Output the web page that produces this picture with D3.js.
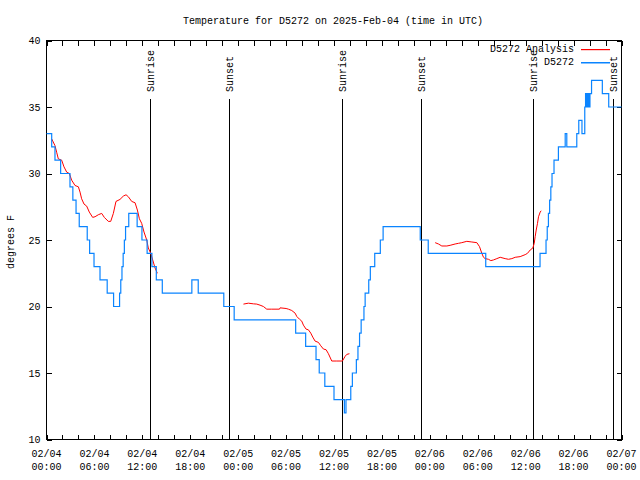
<!DOCTYPE html>
<html><head><meta charset="utf-8">
<script src="https://cdn.jsdelivr.net/npm/d3@7"></script>
<style>
html,body{margin:0;padding:0;background:#fff;}
text{font-family:"Liberation Mono","DejaVu Sans Mono",monospace;font-size:10px;fill:#000;}
</style></head>
<body>
<svg id="chart" width="640" height="480"></svg>
<script>
// hours since 2025-02-04 00:00 UTC
const obsHours = [0,0.65,1.06,1.77,2.94,3.3,3.7,4.1,5.1,5.4,5.95,6.7,7.6,8.4,9.15,9.3,9.45,9.6,9.75,9.9,10.3,11.35,11.95,12.6,13.2,13.75,14.5,18.2,19.0,22.2,23.5,31.2,32.45,33.75,34.15,34.85,36.0,37.3,37.5,38.1,38.3,38.8,39.0,39.2,39.4,39.75,39.9,40.35,40.55,41.1,41.8,42.15,46.8,47.8,55.0,61.8,62.55,62.7,62.85,63.0,63.15,63.3,63.55,64.1,64.95,65.15,66.4,66.65,67.05,67.4,67.5,67.65,67.75,67.9,68.05,68.25,69.6,70.4,72];
const obsTemps = [33,32,31,30,29,28,27,26,25,24,23,22,21,20,21,22,23,24,25,26,27,26,25,24,23,22,21,22,21,20,19,18,17,16,15,14,13,12,13,14,15,16,17,18,19,20,21,22,23,24,25,26,25,24,23,24,25,26,27,28,29,30,31,32,33,32,33,34,33,35,36,35,36,35,36,37,36,35,35];

const anaHours = [0.65,1.06,1.27,1.48,1.9,2.19,2.53,2.86,3.15,3.57,3.99,4.2,4.4,4.7,5.03,5.36,5.78,6.08,6.49,6.91,7.24,7.74,8.04,8.37,8.7,9.2,9.62,9.96,10.25,10.67,11.09,11.38,11.63,11.92,12.21,12.55,12.75,13.05,13.3,13.59,13.88,
  null,
  24.66,25.28,25.91,26.33,26.74,27.16,27.58,28.2,29.17,29.25,30.0,30.29,30.71,31.13,31.34,31.67,31.96,32.17,32.5,32.79,33.09,33.34,33.63,34.05,34.34,34.68,35.01,35.3,35.72,36.35,37.05,37.39,37.6,37.93,
  null,
  48.67,49.08,49.5,50.13,50.54,51.17,51.59,52.0,52.63,53.26,53.89,54.22,54.51,54.72,54.93,55.34,55.64,55.97,56.39,56.81,57.43,57.85,58.27,58.69,59.31,59.94,60.23,60.57,60.9,61.07,61.19,61.32,61.48,61.61,61.82,61.94];
const anaTemps = [32.6,32.1,31.6,31.1,31.0,30.5,30.1,30.0,29.5,29.1,29.0,28.6,28.1,27.7,27.55,27.1,26.7,26.75,26.9,27.0,26.7,26.4,26.4,27.0,27.9,28.05,28.3,28.4,28.25,27.9,27.8,27.25,26.6,26.25,25.6,25.0,24.4,24.0,23.5,22.9,22.5,
  null,
  20.18,20.25,20.2,20.18,20.1,20.0,19.8,19.8,19.8,19.9,19.85,19.8,19.7,19.5,19.25,19.05,18.9,18.6,18.3,18.25,18.0,17.7,17.4,17.3,17.05,16.8,16.75,16.45,15.9,15.9,15.9,16.25,16.4,16.45,
  null,
  24.8,24.7,24.55,24.55,24.6,24.7,24.75,24.8,24.9,24.85,24.8,24.5,24.0,23.7,23.6,23.55,23.45,23.5,23.6,23.7,23.6,23.55,23.6,23.7,23.75,23.9,24.0,24.25,24.4,24.75,25.25,25.75,26.25,26.75,27.1,27.2];

const sunHours = [13.0, 22.9, 37.05, 46.95, 60.98, 71.0];
const sunLabels = ["Sunrise","Sunset","Sunrise","Sunset","Sunrise","Sunset"];
const yTicks = [10,15,20,25,30,35,40];
const seriesNames = ["D5272 Analysis","D5272"];
const seriesColors = ["#ff0000","#0a84ff"];
const titleText = "Temperature for D5272 on 2025-Feb-04 (time in UTC)";
const yLabel = "degrees F";

const base = Date.UTC(2025,1,4,0,0,0);
const toDate = h => new Date(base + h*3600000);

const L = 46.5, R = 621.5, T = 40.5, B = 439.5;
const svg = d3.select("#chart");
const x = d3.scaleUtc().domain([toDate(0), toDate(72)]).range([L, R]);
const y = d3.scaleLinear().domain([10,40]).range([B, T]);

// title
svg.append("text").attr("x",333).attr("y",24).attr("text-anchor","middle").text(titleText);
// y label
svg.append("text").attr("transform","translate(14,242) rotate(-90)").attr("text-anchor","middle").text(yLabel);

// axes
const xTickVals = d3.range(0,73,2).map(toDate);
const fmtD = d3.utcFormat("%m/%d"), fmtT = d3.utcFormat("%H:%M");
const gx = svg.append("g").attr("transform",`translate(0,${B})`)
  .call(d3.axisBottom(x).tickValues(xTickVals).tickSizeInner(-5).tickSizeOuter(0).tickPadding(0).tickFormat(""));
gx.select(".domain").remove();
svg.append("g").attr("transform",`translate(0,${T})`)
  .call(d3.axisTop(x).tickValues(xTickVals).tickSizeInner(-5).tickSizeOuter(0).tickFormat(""))
  .select(".domain").remove();
const labelVals = d3.range(0,73,6).map(toDate);
const xl = svg.append("g");
labelVals.forEach(d=>{
  const t = xl.append("text").attr("x",x(d)).attr("text-anchor","middle");
  t.append("tspan").attr("x",x(d)).attr("y",457).text(fmtD(d));
  t.append("tspan").attr("x",x(d)).attr("y",470).text(fmtT(d));
});
const gy = svg.append("g").attr("transform",`translate(${L},0)`)
  .call(d3.axisLeft(y).tickValues(yTicks).tickSizeInner(-5).tickSizeOuter(0).tickPadding(6).tickFormat(d3.format("d")));
gy.select(".domain").remove();
svg.append("g").attr("transform",`translate(${R},0)`)
  .call(d3.axisRight(y).tickValues(yTicks).tickSizeInner(-5).tickSizeOuter(0).tickFormat(""))
  .select(".domain").remove();
svg.selectAll(".tick line").attr("stroke","#000").attr("shape-rendering","crispEdges");
svg.selectAll("g").attr("font-family",null).attr("font-size",null);

// frame
svg.append("rect").attr("x",L).attr("y",T).attr("width",R-L).attr("height",B-T)
  .attr("fill","none").attr("stroke","#000").attr("shape-rendering","crispEdges");

// sun lines
sunHours.forEach((h,i)=>{
  const xx = Math.round(x(toDate(h))-0.5)+0.5;
  svg.append("line").attr("x1",xx).attr("x2",xx).attr("y1",99).attr("y2",B)
    .attr("stroke","#000").attr("shape-rendering","crispEdges");
  svg.append("text").attr("transform",`translate(${xx+1},92) rotate(-90)`)
    .attr("dominant-baseline","central").attr("text-anchor","start").text(sunLabels[i]);
});

// analysis line
const ana = anaHours.map((h,i)=>({h, v: anaTemps[i]}));
svg.append("path").datum(ana)
  .attr("fill","none").attr("stroke",seriesColors[0]).attr("stroke-width",1)
  .attr("d", d3.line().defined(d=>d.h!==null && d.v!==null).x(d=>x(toDate(d.h))).y(d=>y(d.v)));

// observed line
const obs = obsHours.map((h,i)=>({h, v: obsTemps[i]}));
svg.append("path").datum(obs)
  .attr("fill","none").attr("stroke",seriesColors[1]).attr("stroke-width",1.2)
  .attr("d", d3.line().curve(d3.curveStepAfter).x(d=>x(toDate(d.h))).y(d=>y(d.v)));

// legend
const leg = svg.append("g");
seriesNames.forEach((n,i)=>{
  const yy = 49.5 + i*13;
  leg.append("text").attr("x",574).attr("y",yy).attr("dominant-baseline","central").attr("text-anchor","end").text(n);
  leg.append("rect").attr("x",581).attr("y",yy-0.5).attr("width",29).attr("height",i===0?1.2:1.5)
    .attr("fill",seriesColors[i]).attr("stroke","none");
});
</script>
</body></html>
